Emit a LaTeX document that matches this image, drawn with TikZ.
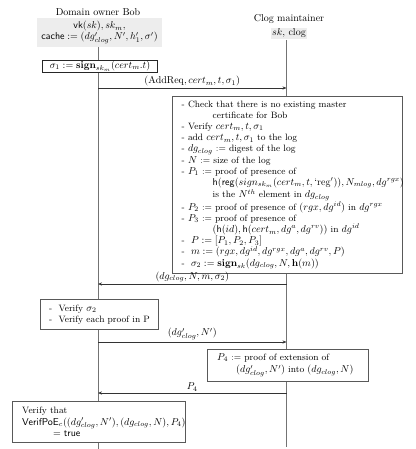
\documentclass[tikz,border=0pt]{standalone}
\usetikzlibrary{arrows.meta}
\DeclareMathSizes{9.2}{10}{7}{5}
\begin{document}
\begin{tikzpicture}[x=1pt,y=-1pt,
  font=\fontsize{10}{11.2}\selectfont,
  boxsty/.style={draw=black!65, line width=0.6pt, fill=white, anchor=north west, inner sep=0pt},
  txt/.style={anchor=west, align=left, inner sep=0pt, font=\fontsize{9.2}{11.2}\selectfont},
  msg/.style={draw=black!80, line width=0.7pt, -{Stealth[length=4pt,width=3.2pt]}},
  mlabel/.style={above, inner sep=1.5pt},
  hdr/.style={fill=black!7, inner sep=1pt, align=center}]
\useasboundingbox (0,0) rectangle (415,449);
% headers
\node (bobname) at (98,12) {Domain owner Bob};
\node[hdr, minimum width=125pt, minimum height=29pt] (bobkeys) at (99.5,32.5)
  {$\mathsf{vk}(sk), sk_m,$\\ $\mathsf{cache} := (dg'_{clog}, N', h'_1, \sigma')$};
\node (clogname) at (289,19) {Clog maintainer};
\node[hdr, minimum height=11pt] (clogkeys) at (289,33.5) {$sk$, clog};
% lifelines
\coordinate (bobtop) at (98,47);
\coordinate (bobbot) at (98,449);
\coordinate (clogtop) at (286.5,40);
\coordinate (clogbot) at (286.5,447);
\draw[black!55, line width=0.6pt] (bobtop) -- (bobbot);
\draw[black!55, line width=1.6pt] (clogtop) -- (clogbot);
% sigma1 box
\node[draw=black!85, line width=0.9pt, fill=white, minimum width=115pt, minimum height=12pt, inner sep=0pt] (s1) at (100,66)
  {$\sigma_1 := \mathbf{sign}_{sk_m}(cert_m.t)$};
% message 1
\coordinate (m1a) at (98,88);
\coordinate (m1b) at (286.5,88);
\draw[msg] (m1a) -- node[mlabel] {$(\mathrm{AddReq}, cert_m, t, \sigma_1)$} (m1b);
% big process box
\node[boxsty, minimum width=230pt, minimum height=177pt] (proc) at (172,96) {};
\node[txt] (proctxt) at ([xshift=9.5pt]proc.west) {%
- Check that there is no existing master\\
\hspace*{31pt}certificate for Bob\\
- Verify $cert_m, t, \sigma_1$\\
- add $cert_m, t, \sigma_1$ to the log\\
- $dg_{clog}$ := digest of the log\\
- $N$ := size of the log\\
- $P_1$ := proof of presence of\\
\hspace*{31pt}$\mathsf{h}(\mathsf{reg}(sign_{sk_m}(cert_m, t, \mathrm{`reg'})), N_{mlog}, dg^{rgx})$\\
\hspace*{31pt}is the $N^{th}$ element in $dg_{clog}$\\
- $P_2$ := proof of presence of $(rgx, dg^{id})$ in $dg^{rgx}$\\
- $P_3$ := proof of presence of\\
\hspace*{31pt}$(\mathsf{h}(id), \mathsf{h}(cert_m, dg^a, dg^{rv}))$ in $dg^{id}$\\
-\hspace*{3pt} $P := [P_1, P_2, P_3]$\\
-\hspace*{3pt} $m := (rgx, dg^{id}, dg^{rgx}, dg^a, dg^{rv}, P)$\\
-\hspace*{3pt} $\sigma_2 := \mathbf{sign}_{sk}(dg_{clog}, N, \mathbf{h}(m))$};
% message 2
\coordinate (m2a) at (286.5,284);
\coordinate (m2b) at (98,284);
\draw[msg] (m2a) -- node[mlabel] {$(dg_{clog}, N, m, \sigma_2)$} (m2b);
% verify box
\node[boxsty, minimum width=118pt, minimum height=30pt] (ver) at (40,299) {};
\node[txt] (vertxt) at ([xshift=9pt]ver.west) {%
-\hspace*{3pt} Verify $\sigma_2$\\
-\hspace*{3pt} Verify each proof in P};
% message 3
\coordinate (m3a) at (98,342);
\coordinate (m3b) at (286.5,342);
\draw[msg] (m3a) -- node[mlabel] {$(dg'_{clog}, N')$} (m3b);
% P4 box
\node[boxsty, minimum width=161pt, minimum height=32pt] (p4) at (207,349) {};
\node[txt, font=\fontsize{9.2}{12.5}\selectfont] (p4txt) at ([xshift=10pt]p4.west) {%
$P_4$ := proof of extension of\\
\hspace*{19pt}$(dg'_{clog}, N')$ into $(dg_{clog}, N)$};
% message 4
\coordinate (m4a) at (286.5,393);
\coordinate (m4b) at (98,393);
\draw[msg] (m4a) -- node[mlabel] {$P_4$} (m4b);
% final box
\node[boxsty, minimum width=173pt, minimum height=41pt] (fin) at (12,401) {};
\node[txt, font=\fontsize{9.2}{11.6}\selectfont] (fintxt) at ([xshift=10pt]fin.west) {%
Verify that\\
$\mathsf{VerifPoE}_c((dg'_{clog}, N'), (dg_{clog}, N), P_4)$\\
\hspace*{31pt}$= \mathsf{true}$};
\end{tikzpicture}
\end{document}
